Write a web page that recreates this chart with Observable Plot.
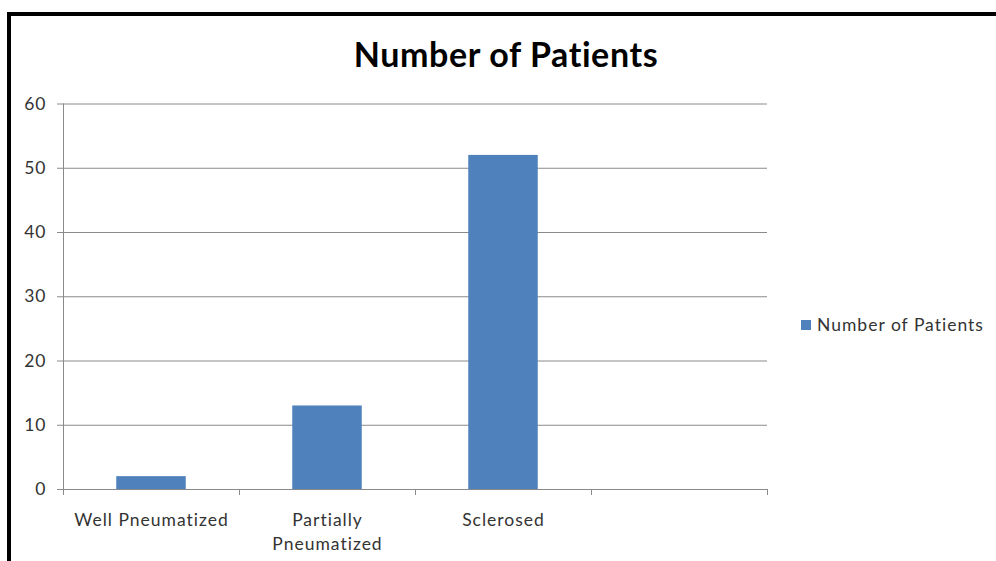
<!DOCTYPE html>
<html>
<head>
<meta charset="utf-8">
<script src="https://cdn.jsdelivr.net/npm/d3@7"></script>
<script src="https://cdn.jsdelivr.net/npm/@observablehq/plot@0.6"></script>
<style>
  body { margin: 0; background: #fff; }
  #chart { position: relative; width: 996px; height: 561px; overflow: hidden; background: #fff; font-family: Lato, "Open Sans", sans-serif; }
  #chart svg { position: absolute; left: 0; top: 0; }
  #frame { position: absolute; left: 7px; top: 12px; right: -10px; bottom: -10px; border-top: 4px solid #000; border-left: 4px solid #000; pointer-events: none; }
  #title { position: absolute; left: 256px; width: 500px; top: 32px; text-align: center; font-weight: 700; font-size: 34px; letter-spacing: 0.6px; line-height: 44px; color: #000; }
  #legend { position: absolute; left: 801px; top: 315px; font-size: 17.5px; line-height: 20px; color: #333; letter-spacing: 1px; display: flex; align-items: center; white-space: nowrap; }
  #legend .swatch { width: 10px; height: 10px; background: #4F81BD; margin-right: 6px; }
</style>
</head>
<body>
<div id="chart">
  <div id="title"></div>
  <div id="legend"><span class="swatch"></span><span class="label"></span></div>
  <div id="frame"></div>
</div>
<script>
// Categories along the horizontal axis (the last slot is left empty)
const categories = ["Well Pneumatized", "Partially Pneumatized", "Sclerosed", ""];
// Axis labels for each category, with line breaks where the label wraps
const tickLabels = ["Well Pneumatized", "Partially\nPneumatized", "Sclerosed", ""];
// Patient counts for the first three categories
const patients = [2, 13, 52];
// Vertical axis ticks
const yTicks = [0, 10, 20, 30, 40, 50, 60];

const seriesName = "Number of Patients";
const titleText = "Number of Patients";

const W = 996, H = 561;
const margin = { top: 103.5, right: 229, bottom: 72, left: 63 };
const bandWidth = (W - margin.left - margin.right) / categories.length;
const barInset = (bandWidth - 69.5) / 2;
const gridColor = "#8a8a8a";
const textColor = "#333";

const rows = patients.map((v, i) => ({ category: categories[i], value: v }));
const labelOf = new Map(categories.map((c, i) => [c, tickLabels[i]]));

const chart = Plot.plot({
  width: W,
  height: H,
  marginTop: margin.top,
  marginRight: margin.right,
  marginBottom: margin.bottom,
  marginLeft: margin.left,
  style: { fontFamily: "Lato, 'Open Sans', sans-serif", fontSize: "17.5px", letterSpacing: "1px", color: textColor, background: "transparent", overflow: "visible" },
  x: { domain: categories, padding: 0 },
  y: { domain: [0, 60] },
  marks: [
    // horizontal gridlines, extended a little to the left as tick marks
    Plot.ruleY(yTicks, { y: d => d, stroke: gridColor, strokeWidth: 1, insetLeft: -6 }),
    // vertical axis line
    Plot.frame({ anchor: "left", stroke: gridColor, strokeWidth: 1 }),
    // category boundary ticks below the baseline
    Plot.ruleX(categories, { x: d => d, dx: -bandWidth / 2, y1: () => 0, y2: () => 0, insetBottom: -6, stroke: gridColor, strokeWidth: 1 }),
    Plot.ruleX(categories.slice(-1), { x: d => d, dx: bandWidth / 2, y1: () => 0, y2: () => 0, insetBottom: -6, stroke: gridColor, strokeWidth: 1 }),
    Plot.barY(rows, { x: "category", y: "value", fill: "#4F81BD", insetLeft: barInset, insetRight: barInset }),
    Plot.axisY({ ticks: yTicks, tickSize: 0, tickPadding: 17, label: null, fill: textColor, fontSize: 17.5 }),
    Plot.axisX({ tickSize: 0, tickPadding: 19, label: null, tickFormat: d => labelOf.get(d), fill: textColor, fontSize: 17.5, lineHeight: 1.38 })
  ]
});

const root = document.getElementById("chart");
root.insertBefore(chart, root.firstChild);
document.getElementById("title").textContent = titleText;
document.querySelector("#legend .label").textContent = seriesName;
</script>
</body>
</html>
